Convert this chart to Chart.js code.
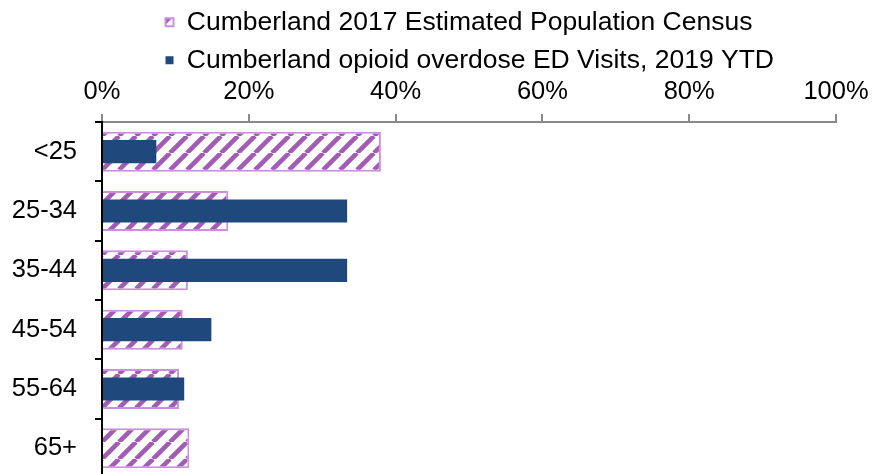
<!DOCTYPE html>
<html><head><meta charset="utf-8">
<script src="https://cdn.jsdelivr.net/npm/chart.js@4"></script>
<style>
html,body{margin:0;padding:0;background:#fff;overflow:hidden}
#wrap{width:873px;height:474px;overflow:hidden;position:relative}
#c{display:block}
</style></head><body>
<div id="wrap"><canvas id="c" width="873" height="478"></canvas></div>
<script>
const categories = ['<25', '25-34', '35-44', '45-54', '55-64', '65+'];
const censusPct = [38.0, 17.2, 11.7, 11.0, 10.5, 11.9];
const edVisitsPct = [7.4, 33.4, 33.4, 14.9, 11.2, 0];
const xTickValues = [0, 20, 40, 60, 80, 100];
const seriesNames = ['Cumberland 2017 Estimated Population Census', 'Cumberland opioid overdose ED Visits, 2019 YTD'];

const FONT = "'Liberation Sans', Arial, sans-serif";

function makeHatch() {
  const p = 17;
  const c = document.createElement('canvas');
  c.width = p; c.height = p;
  const g = c.getContext('2d');
  g.fillStyle = '#ffffff';
  g.fillRect(0, 0, p, p);
  g.strokeStyle = '#A35CB4';
  g.lineWidth = 4.6;
  g.beginPath();
  for (let k = -1; k <= 1; k++) { g.moveTo(k * p, p); g.lineTo(k * p + p, 0); }
  g.stroke();
  return g.createPattern(c, 'repeat');
}
const hatch = makeHatch();

const legendShift = {
  id: 'legendShift',
  afterLayout(chart) {
    const lg = chart.legend;
    if (!lg) return;
    const dx = 154, dy = -2.5;
    lg.left += dx; lg.right += dx; lg.top += dy; lg.bottom += dy + 8;
  }
};

new Chart(document.getElementById('c'), {
  type: 'bar',
  data: {
    labels: categories,
    datasets: [
      { label: seriesNames[0], data: censusPct, backgroundColor: hatch, borderColor: '#CC8FDB', borderWidth: 2,
        barPercentage: 0.675, categoryPercentage: 1, grouped: false, order: 1 },
      { label: seriesNames[1], data: edVisitsPct, backgroundColor: '#1F497D', borderColor: '#1F497D', borderWidth: 0,
        barPercentage: 0.39, categoryPercentage: 1, grouped: false, order: 0 }
    ]
  },
  options: {
    indexAxis: 'y',
    responsive: false,
    animation: false,
    layout: { padding: { left: 0, right: 37, top: 0, bottom: 0 } },
    plugins: {
      tooltip: { enabled: false },
      legend: {
        position: 'top',
        align: 'start',
        maxHeight: 78,
        labels: {
          font: { family: FONT, size: 26.5 },
          color: '#000',
          boxWidth: 8,
          boxHeight: 8,
          padding: 11.5,
          sort: (a, b) => a.datasetIndex - b.datasetIndex
        }
      }
    },
    scales: {
      x: {
        position: 'top',
        min: 0, max: 100,
        afterBuildTicks: s => { s.ticks = xTickValues.map(v => ({ value: v })); },
        afterFit: s => { s.height = 44; s.paddingLeft = 0; s.paddingRight = 0; },
        ticks: { callback: v => v + '%', font: { family: FONT, size: 25.5 }, color: '#000', padding: 7 },
        grid: { drawOnChartArea: false, drawTicks: true, tickLength: 8, color: '#898989', lineWidth: 2 },
        border: { color: '#898989', width: 2 }
      },
      y: {
        afterFit: s => { s.width = 102; s.paddingTop = 0; s.paddingBottom = 0; },
        ticks: { font: { family: FONT, size: 25.5 }, color: '#000', padding: 18 },
        grid: { offset: true, drawOnChartArea: false, drawTicks: true, tickLength: 7, color: '#000', lineWidth: 2 },
        border: { color: '#000', width: 2 }
      }
    }
  },
  plugins: [legendShift]
});
</script>
</body></html>
